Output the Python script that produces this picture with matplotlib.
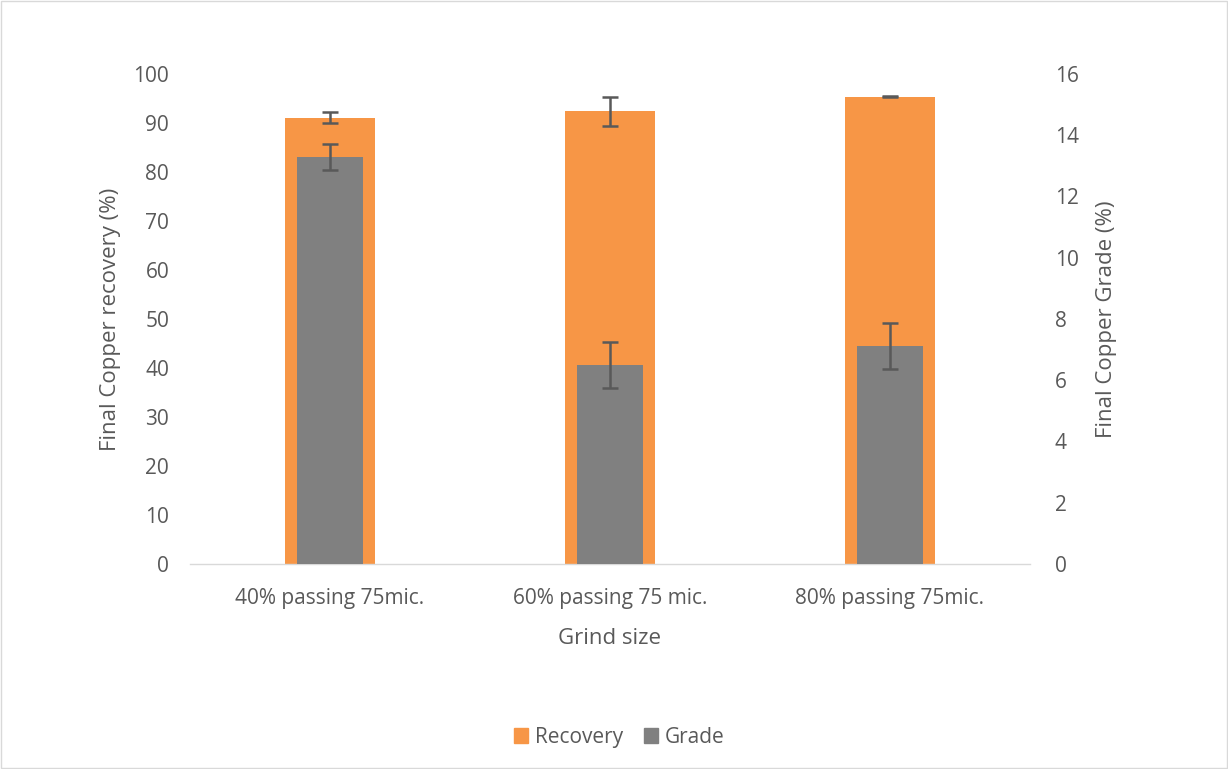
import matplotlib
matplotlib.use("Agg")
import matplotlib.pyplot as plt
from matplotlib.patches import Rectangle
import numpy as np

categories = ["40% passing 75mic.", "60% passing 75 mic.", "80% passing 75mic."]
recovery = [91.1, 92.4, 95.4]
recovery_err = [1.15, 2.95, 0.15]
grade = [13.28, 6.50, 7.12]
grade_err = [0.43, 0.76, 0.75]

plt.rcParams["font.family"] = ["Open Sans", "DejaVu Sans"]
text_col = "#595959"
orange = "#F79646"
grey = "#808080"
err_col = "#595959"

fig = plt.figure(figsize=(12.28, 7.69), dpi=100)
fig.patches.append(Rectangle((0.001, 0.001), 0.998, 0.998, transform=fig.transFigure,
                             fill=False, edgecolor="#D9D9D9", linewidth=1))

ax = fig.add_axes([0.1547, 0.2666, 0.684, 0.6372])
ax2 = ax.twinx()
x = np.arange(len(categories))

ax.bar(x, recovery, width=0.32, color=orange, zorder=1, label="Recovery")
ax.errorbar(x, recovery, yerr=recovery_err, fmt="none", ecolor=err_col,
            elinewidth=1.8, capsize=6, capthick=1.8, zorder=3)
ax2.bar(x, grade, width=0.236, color=grey, zorder=2, label="Grade")
ax2.errorbar(x, grade, yerr=grade_err, fmt="none", ecolor=err_col,
             elinewidth=1.8, capsize=6, capthick=1.8, zorder=3)

ax.set_xlim(-0.5, 2.5)
ax.set_ylim(0, 100)
ax.set_yticks(np.arange(0, 101, 10))
ax2.set_ylim(0, 16)
ax2.set_yticks(np.arange(0, 17, 2))
ax.set_xticks(x)
ax.set_xticklabels(categories)

for a in (ax, ax2):
    for s in a.spines.values():
        s.set_visible(False)
    a.tick_params(axis="both", length=0, labelsize=15, colors=text_col)
ax.spines["bottom"].set_visible(True)
ax.spines["bottom"].set_color("#D9D9D9")
ax.spines["bottom"].set_linewidth(1)
ax.tick_params(axis="x", pad=17)
ax.tick_params(axis="y", pad=15)
ax2.tick_params(axis="y", pad=18)

ax.set_ylabel("Final Copper recovery (%)", fontsize=16, color=text_col, labelpad=9)
ax2.set_ylabel("Final Copper Grade (%)", fontsize=16, color=text_col, labelpad=12)
ax.set_xlabel("Grind size", fontsize=16, color=text_col, labelpad=14)

handles = [Rectangle((0, 0), 1, 1, color=orange), Rectangle((0, 0), 1, 1, color=grey)]
fig.legend(handles, ["Recovery", "Grade"], loc="center", bbox_to_anchor=(0.504, 0.041),
           ncol=2, frameon=False, fontsize=15, labelcolor=text_col,
           handlelength=0.7, handleheight=0.7, handletextpad=0.3, columnspacing=1.0)

fig.savefig("out.png", dpi=100)
